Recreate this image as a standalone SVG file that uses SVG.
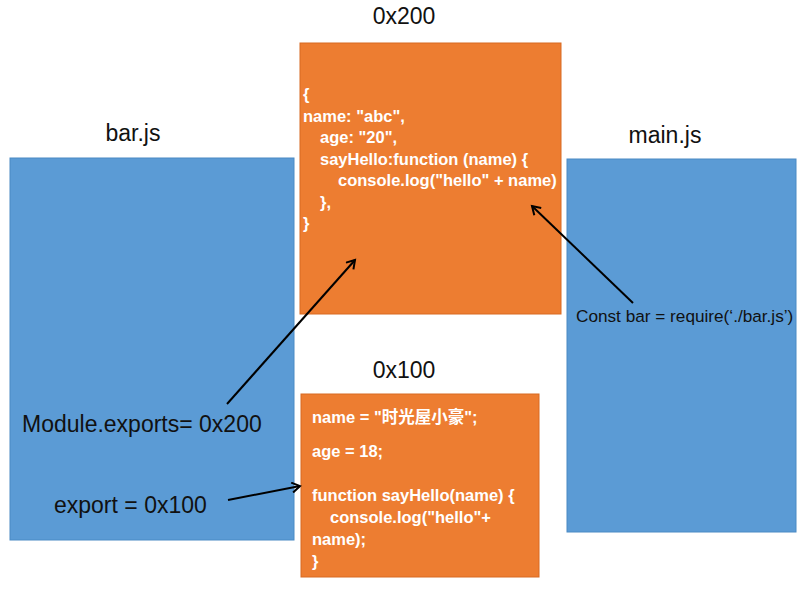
<svg xmlns="http://www.w3.org/2000/svg" width="804" height="589" viewBox="0 0 804 589">
<style>
.blue{fill:#5b9bd5;stroke:#4a8ac4;stroke-width:1}
.orange{fill:#ed7d31;stroke:#d86a22;stroke-width:1}
.title{font-family:"Liberation Sans",Arial,sans-serif;font-size:23px;fill:#111}
.code{font-family:"Liberation Sans","Noto Sans CJK SC",Arial,sans-serif;font-size:16.5px;font-weight:bold;fill:#ffffff}
.lbl{font-family:"Liberation Sans",Arial,sans-serif;font-size:23px;fill:#111}
.lbls{font-family:"Liberation Sans",Arial,sans-serif;font-size:17.2px;fill:#111}
.conn{stroke:#000;stroke-width:2;fill:none;marker-end:url(#arr)}
</style>
<defs>
<marker id="arr" markerWidth="12" markerHeight="12" refX="9" refY="6" orient="auto" markerUnits="userSpaceOnUse">
<polyline points="1,1 9,6 1,11" fill="none" stroke="#000" stroke-width="2"/>
</marker>
</defs>
<rect width="804" height="589" fill="#ffffff"/>
<g id="barjs">
<rect class="blue" x="10" y="158" width="284" height="382"/>
<text class="title" x="133" y="141" text-anchor="middle">bar.js</text>
<text class="lbl" x="22" y="432">Module.exports= 0x200</text>
<text class="lbl" x="54" y="513">export = 0x100</text>
</g>
<g id="mainjs">
<rect class="blue" x="567" y="159" width="229" height="373"/>
<text class="title" x="665" y="143" text-anchor="middle">main.js</text>
<text class="lbls" x="576" y="322">Const bar = require(‘./bar.js’)</text>
</g>
<g id="obj200">
<rect class="orange" x="300" y="43" width="261" height="271"/>
<text class="title" x="404" y="24" text-anchor="middle">0x200</text>
<text class="code" x="303" y="100">{</text>
<text class="code" x="303" y="122">name: "abc",</text>
<text class="code" x="320" y="143">age: "20",</text>
<text class="code" x="320" y="165">sayHello:function (name) {</text>
<text class="code" x="338" y="186">console.log("hello" + name)</text>
<text class="code" x="320" y="208">},</text>
<text class="code" x="303" y="229">}</text>
</g>
<g id="obj100">
<rect class="orange" x="301" y="394" width="238" height="183"/>
<text class="title" x="404" y="378" text-anchor="middle">0x100</text>
<text class="code" x="312" y="423">name = "时光屋小豪";</text>
<text class="code" x="312" y="457">age = 18;</text>
<text class="code" x="312" y="501">function sayHello(name) {</text>
<text class="code" x="330" y="523">console.log("hello"+</text>
<text class="code" x="312" y="545">name);</text>
<text class="code" x="312" y="567">}</text>
</g>
<g id="connectors">
<line class="conn" x1="227" y1="404" x2="355" y2="260"/>
<line class="conn" x1="633" y1="303" x2="532" y2="206"/>
<line class="conn" x1="228" y1="500" x2="300" y2="486"/>
</g>
</svg>
